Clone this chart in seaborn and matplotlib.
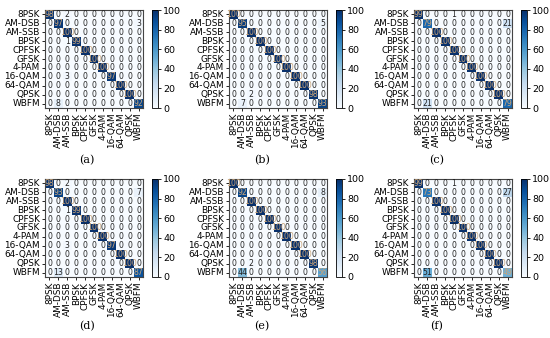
import numpy as np
import matplotlib
matplotlib.use("Agg")
import matplotlib.pyplot as plt
import seaborn as sns

labels = ['8PSK', 'AM-DSB', 'AM-SSB', 'BPSK', 'CPFSK', 'GFSK',
          '4-PAM', '16-QAM', '64-QAM', 'QPSK', 'WBFM']

cm_a = [
    [98, 0, 2, 0, 0, 0, 0, 0, 0, 0, 0],
    [0, 97, 0, 0, 0, 0, 0, 0, 0, 0, 3],
    [0, 0, 100, 0, 0, 0, 0, 0, 0, 0, 0],
    [0, 0, 1, 99, 0, 0, 0, 0, 0, 0, 0],
    [0, 0, 0, 0, 100, 0, 0, 0, 0, 0, 0],
    [0, 0, 0, 0, 0, 100, 0, 0, 0, 0, 0],
    [0, 0, 0, 0, 0, 0, 100, 0, 0, 0, 0],
    [0, 0, 3, 0, 0, 0, 0, 97, 0, 0, 0],
    [0, 0, 0, 0, 0, 0, 0, 0, 100, 0, 0],
    [0, 0, 0, 0, 0, 0, 0, 0, 0, 100, 0],
    [0, 8, 0, 0, 0, 0, 0, 0, 0, 0, 92],
]
cm_b = [
    [100, 0, 0, 0, 0, 0, 0, 0, 0, 0, 0],
    [0, 95, 0, 0, 0, 0, 0, 0, 0, 0, 5],
    [0, 0, 100, 0, 0, 0, 0, 0, 0, 0, 0],
    [0, 0, 0, 100, 0, 0, 0, 0, 0, 0, 0],
    [0, 0, 0, 0, 100, 0, 0, 0, 0, 0, 0],
    [0, 0, 0, 0, 0, 100, 0, 0, 0, 0, 0],
    [0, 0, 0, 0, 0, 0, 100, 0, 0, 0, 0],
    [0, 0, 0, 0, 0, 0, 0, 100, 0, 0, 0],
    [0, 0, 0, 0, 0, 0, 0, 0, 100, 0, 0],
    [0, 0, 2, 0, 0, 0, 0, 0, 0, 98, 0],
    [0, 7, 0, 0, 0, 0, 0, 0, 0, 0, 93],
]
cm_c = [
    [99, 0, 0, 0, 1, 0, 0, 0, 0, 0, 0],
    [0, 79, 0, 0, 0, 0, 0, 0, 0, 0, 21],
    [0, 0, 100, 0, 0, 0, 0, 0, 0, 0, 0],
    [0, 0, 0, 100, 0, 0, 0, 0, 0, 0, 0],
    [0, 0, 0, 0, 100, 0, 0, 0, 0, 0, 0],
    [0, 0, 0, 0, 0, 100, 0, 0, 0, 0, 0],
    [0, 0, 0, 0, 0, 0, 100, 0, 0, 0, 0],
    [0, 0, 0, 0, 0, 0, 0, 100, 0, 0, 0],
    [0, 0, 0, 0, 0, 0, 0, 0, 100, 0, 0],
    [0, 0, 0, 0, 0, 0, 0, 0, 0, 100, 0],
    [0, 21, 0, 0, 0, 0, 0, 0, 0, 0, 79],
]
cm_d = [
    [98, 0, 2, 0, 0, 0, 0, 0, 0, 0, 0],
    [0, 93, 0, 0, 0, 0, 0, 0, 0, 0, 7],
    [0, 0, 100, 0, 0, 0, 0, 0, 0, 0, 0],
    [0, 0, 1, 99, 0, 0, 0, 0, 0, 0, 0],
    [0, 0, 0, 0, 100, 0, 0, 0, 0, 0, 0],
    [0, 0, 0, 0, 0, 100, 0, 0, 0, 0, 0],
    [0, 0, 0, 0, 0, 0, 100, 0, 0, 0, 0],
    [0, 0, 3, 0, 0, 0, 0, 97, 0, 0, 0],
    [0, 0, 0, 0, 0, 0, 0, 0, 100, 0, 0],
    [0, 0, 0, 0, 0, 0, 0, 0, 0, 100, 0],
    [0, 13, 0, 0, 0, 0, 0, 0, 0, 0, 87],
]
cm_e = [
    [100, 0, 0, 0, 0, 0, 0, 0, 0, 0, 0],
    [0, 92, 0, 0, 0, 0, 0, 0, 0, 0, 8],
    [0, 0, 100, 0, 0, 0, 0, 0, 0, 0, 0],
    [0, 0, 0, 100, 0, 0, 0, 0, 0, 0, 0],
    [0, 0, 0, 0, 100, 0, 0, 0, 0, 0, 0],
    [0, 0, 0, 0, 0, 100, 0, 0, 0, 0, 0],
    [0, 0, 0, 0, 0, 0, 100, 0, 0, 0, 0],
    [0, 0, 0, 0, 0, 0, 0, 100, 0, 0, 0],
    [0, 0, 0, 0, 0, 0, 0, 0, 100, 0, 0],
    [0, 0, 2, 0, 0, 0, 0, 0, 0, 98, 0],
    [0, 44, 0, 0, 0, 0, 0, 0, 0, 0, 56],
]
cm_f = [
    [99, 0, 0, 0, 1, 0, 0, 0, 0, 0, 0],
    [0, 73, 0, 0, 0, 0, 0, 0, 0, 0, 27],
    [0, 0, 100, 0, 0, 0, 0, 0, 0, 0, 0],
    [0, 0, 0, 100, 0, 0, 0, 0, 0, 0, 0],
    [0, 0, 0, 0, 100, 0, 0, 0, 0, 0, 0],
    [0, 0, 0, 0, 0, 100, 0, 0, 0, 0, 0],
    [0, 0, 0, 0, 0, 0, 100, 0, 0, 0, 0],
    [0, 0, 0, 0, 0, 0, 0, 100, 0, 0, 0],
    [0, 0, 0, 0, 0, 0, 0, 0, 100, 0, 0],
    [0, 0, 0, 0, 0, 0, 0, 0, 0, 100, 0],
    [0, 51, 0, 0, 0, 0, 0, 0, 0, 0, 49],
]

captions = ['(a)', '(b)', '(c)', '(d)', '(e)', '(f)']
matrices = [cm_a, cm_b, cm_c, cm_d, cm_e, cm_f]

W, H = 550, 338
fig = plt.figure(figsize=(5.5, 3.38), dpi=100)

lefts = [45, 229, 414]
cbar_lefts = [152, 336, 521]
tops = [10, 179]
caption_x = [87, 262, 437]
caption_y = [160, 326]
size = 98

for i, (cm, cap) in enumerate(zip(matrices, captions)):
    r, c = divmod(i, 3)
    x0, y0 = lefts[c], tops[r]
    ax = fig.add_axes([x0 / W, 1 - (y0 + size) / H, size / W, size / H])
    cax = fig.add_axes([cbar_lefts[c] / W, 1 - (y0 + size) / H, 5.5 / W, size / H])
    data = np.array(cm)
    sns.heatmap(data, ax=ax, cbar_ax=cax, cmap='Blues', vmin=0, vmax=100,
                annot=True, fmt='d', annot_kws={'size': 5.6},
                xticklabels=labels, yticklabels=labels)
    for t in ax.texts:
        xx, yy = t.get_position()
        if int(xx) == int(yy):
            t.set_color('#c9a57a')
        else:
            t.set_color('#222222')
    for s in ax.spines.values():
        s.set_visible(True)
        s.set_linewidth(0.8)
        s.set_color('#444444')
    ax.tick_params(axis='both', labelsize=6.4, length=2.5, width=0.6, pad=1)
    ax.set_xticklabels(labels, rotation=90)
    ax.set_yticklabels(labels, rotation=0)
    cax.tick_params(labelsize=6.8, length=2.5, width=0.6, pad=1.5)
    cax.set_yticks([0, 20, 40, 60, 80, 100])
    cbar = ax.collections[0].colorbar
    cbar.outline.set_visible(True)
    cbar.outline.set_linewidth(0.6)
    fig.text(caption_x[c] / W, 1 - caption_y[r] / H, cap, ha='center', va='center',
             fontsize=8, family='DejaVu Serif')

fig.savefig('out.png', dpi=100)
